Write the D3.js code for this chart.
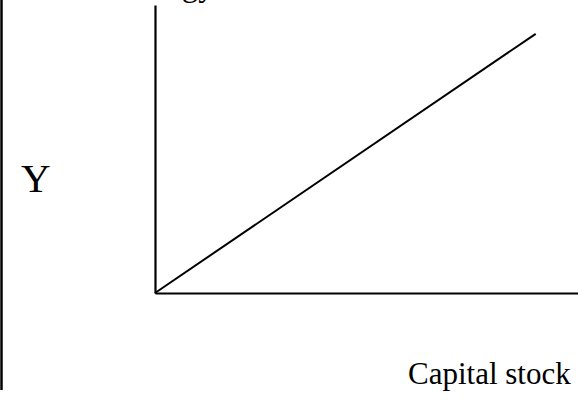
<!DOCTYPE html>
<html>
<head>
<meta charset="utf-8">
<script src="https://cdn.jsdelivr.net/npm/d3@7"></script>
<style>
  body { margin: 0; background: #fff; }
  svg { display: block; }
</style>
</head>
<body>
<svg id="chart"></svg>
<script>
// data
const capital = [0, 0.9];
const output = [0, 0.9];
const xLabel = 'Capital stock';
const yLabel = 'Y';
const topLabel = 'Energy';

const width = 578, height = 400;
const margin = {top: 5, right: 0, bottom: 107, left: 155};
const serif = "'Liberation Serif', 'DejaVu Serif', 'Times New Roman', Times, serif";

const svg = d3.select('#chart')
    .attr('width', width)
    .attr('height', height);

const xScale = d3.scaleLinear()
    .domain([0, 1])
    .range([margin.left, width - margin.right]);

const yScale = d3.scaleLinear()
    .domain([0, 1])
    .range([height - margin.bottom, margin.top]);

// left frame edge
svg.append('line')
    .attr('x1', 1.5).attr('x2', 1.5)
    .attr('y1', 0).attr('y2', 390)
    .attr('stroke', '#000')
    .attr('stroke-width', 2.5);

// axes (plain lines, no ticks)
const xAxis = d3.axisBottom(xScale).tickValues([]).tickSizeOuter(0);
const yAxis = d3.axisLeft(yScale).tickValues([]).tickSizeOuter(0);

svg.append('g')
    .attr('transform', `translate(0,${yScale(0)})`)
    .call(xAxis)
    .select('.domain')
    .attr('stroke', '#000')
    .attr('stroke-width', 2.2);

svg.append('g')
    .attr('transform', `translate(${xScale(0)},0)`)
    .call(yAxis)
    .select('.domain')
    .attr('stroke', '#000')
    .attr('stroke-width', 2.2);

// the line
const pts = capital.map((c, i) => ({k: c, y: output[i]}));
svg.append('path')
    .datum(pts)
    .attr('fill', 'none')
    .attr('stroke', '#000')
    .attr('stroke-width', 2)
    .attr('d', d3.line().x(d => xScale(d.k)).y(d => yScale(d.y)));

// labels
svg.append('text')
    .attr('font-family', serif)
    .attr('font-size', 41)
    .attr('x', 21)
    .attr('y', 192)
    .text(yLabel);

svg.append('text')
    .attr('font-family', serif)
    .attr('font-size', 31)
    .attr('x', 408)
    .attr('y', 384)
    .text(xLabel);

svg.append('text')
    .attr('font-family', serif)
    .attr('font-size', 33)
    .attr('x', 120)
    .attr('y', -4)
    .text(topLabel);
</script>
</body>
</html>
